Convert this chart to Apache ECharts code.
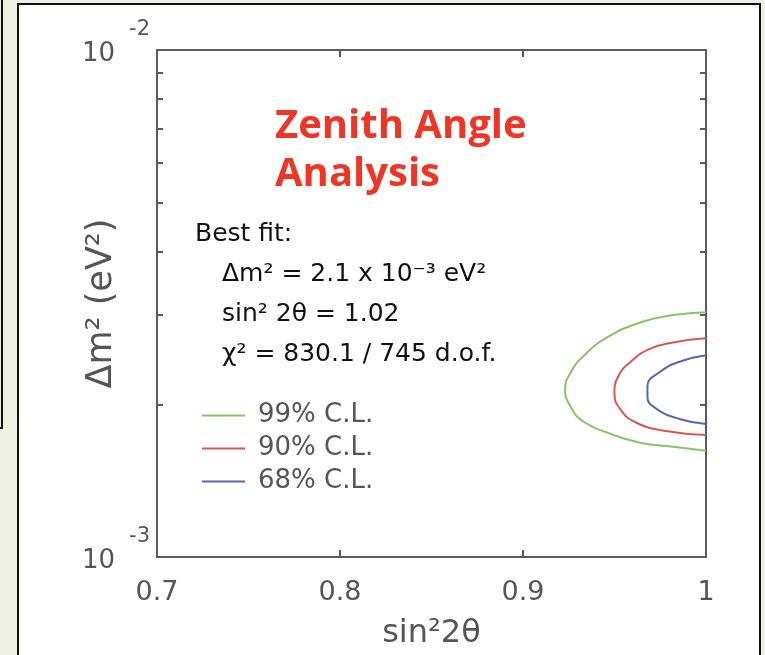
<!DOCTYPE html>
<html>
<head>
<meta charset="utf-8">
<script src="https://cdn.jsdelivr.net/npm/echarts@6/dist/echarts.min.js"></script>
<style>
  html, body { margin: 0; padding: 0; background: #eef0e4; }
  #main { width: 765px; height: 655px; }
</style>
</head>
<body>
<div id="main"></div>
<script>
// x: sin^2 2theta, y: delta m^2 (eV^2)
var xRange = [0.7, 1];
var yRange = [0.001, 0.01];
var yMinorTicks = [0.002, 0.003, 0.004, 0.005, 0.006, 0.007, 0.008, 0.009];

var legendNames = ['99% C.L.', '90% C.L.', '68% C.L.'];

// contours
var cl99X = [1.0, 0.982, 0.964, 0.946, 0.933, 0.926, 0.923, 0.926, 0.933, 0.946, 0.964, 0.982, 1.0];
var cl99Y = [0.00304, 0.00300, 0.00290, 0.00271, 0.00249, 0.00231, 0.00214, 0.00198, 0.00185, 0.00176, 0.00168, 0.00165, 0.00162];
var cl90X = [1.0, 0.982, 0.969, 0.959, 0.952, 0.950, 0.953, 0.962, 0.979, 1.0];
var cl90Y = [0.00270, 0.00265, 0.00257, 0.00243, 0.00227, 0.00211, 0.00196, 0.00184, 0.00177, 0.00174];
var cl68X = [1.0, 0.986, 0.975, 0.968, 0.968, 0.973, 0.986, 1.0];
var cl68Y = [0.00250, 0.00243, 0.00232, 0.00217, 0.00207, 0.00196, 0.00187, 0.00183];

var lineColors = ['#86c46e', '#d65a52', '#5766b4'];

function zip(xs, ys) {
    var out = [];
    for (var i = 0; i < xs.length; i++) out.push([xs[i], ys[i]]);
    return out;
}

var chart = echarts.init(document.getElementById('main'));

var axisGray = '#5a5a5a';
var font = 'DejaVu Sans';

var option = {
    backgroundColor: '#eef0e4',
    animation: false,
    graphic: [
        // slide panels
        { type: 'rect', z: -10, shape: { x: -10, y: -10, width: 12, height: 438 },
          style: { fill: '#eef0e4', stroke: '#111', lineWidth: 2 } },
        { type: 'rect', z: -10, shape: { x: 18, y: 4, width: 742, height: 680 },
          style: { fill: '#ffffff', stroke: '#111', lineWidth: 2 } }
    ],
    title: [{
        text: 'Zenith Angle\nAnalysis',
        left: 275, top: 103, padding: 0,
        textStyle: { color: '#ee3526', fontFamily: 'Open Sans', fontWeight: 'bold', fontSize: 40, lineHeight: 48 }
    }, {
        text: '{a|Best fit:}\n{b|Δm² = 2.1 x 10⁻³ eV²}\n{b|sin² 2θ = 1.02}\n{b|χ² = 830.1 / 745 d.o.f.}',
        left: 195, top: 214, padding: 0,
        textStyle: {
            fontWeight: 'normal',
            rich: {
                a: { color: '#111', fontFamily: font, fontWeight: 'normal', fontSize: 25, lineHeight: 40 },
                b: { color: '#111', fontFamily: font, fontWeight: 'normal', fontSize: 25, lineHeight: 40, padding: [0, 0, 0, 27] }
            }
        }
    }],
    legend: {
        orient: 'vertical',
        left: 197, top: 397,
        data: legendNames,
        icon: 'rect',
        itemWidth: 43, itemHeight: 2, itemGap: 6,
        textStyle: { color: '#555', fontFamily: font, fontSize: 26, lineHeight: 27, padding: [0, 0, 0, 8] }
    },
    grid: { left: 157, right: 59, top: 50, bottom: 97, containLabel: false },
    xAxis: [{
        type: 'value', min: xRange[0], max: xRange[1], interval: 0.1,
        position: 'bottom',
        name: 'sin²2θ', nameLocation: 'middle', nameGap: 61,
        nameTextStyle: { color: '#555', fontFamily: font, fontSize: 32 },
        axisLine: { lineStyle: { color: axisGray, width: 2 } },
        axisTick: { inside: true, length: 7, lineStyle: { color: axisGray, width: 2 } },
        axisLabel: { color: '#555', fontFamily: font, fontSize: 27, margin: 22, showMinLabel: true, showMaxLabel: true },
        splitLine: { show: false }
    }, {
        type: 'value', min: xRange[0], max: xRange[1], interval: 0.1,
        position: 'top',
        axisLine: { lineStyle: { color: axisGray, width: 2 } },
        axisTick: { inside: true, length: 7, lineStyle: { color: axisGray, width: 2 } },
        axisLabel: { show: false },
        splitLine: { show: false }
    }],
    yAxis: [{
        type: 'log', logBase: 10, min: yRange[0], max: yRange[1],
        position: 'left',
        name: 'Δm² (eV²)', nameLocation: 'middle', nameRotate: 90, nameGap: 38,
        nameMoveOverlap: false,
        nameTextStyle: { color: '#555', fontFamily: font, fontSize: 35 },
        axisLine: { lineStyle: { color: axisGray, width: 2 } },
        axisTick: { inside: true, length: 6, customValues: yMinorTicks, lineStyle: { color: axisGray, width: 2 } },
        axisLabel: {
            margin: 7, showMinLabel: true, showMaxLabel: true,
            formatter: function(v) {
                return '{s|' + Math.round(Math.log10(v)) + '}\n{b|10}\n{e| }';
            },
            rich: {
                s: { color: '#555', fontFamily: font, fontSize: 21, lineHeight: 24, align: 'right' },
                b: { color: '#555', fontFamily: font, fontSize: 26, lineHeight: 24, align: 'right', padding: [0, 35, 0, 0] },
                e: { fontSize: 10, lineHeight: 16, align: 'right' }
            }
        },
        splitLine: { show: false }
    }, {
        type: 'log', logBase: 10, min: yRange[0], max: yRange[1],
        position: 'right',
        axisLine: { lineStyle: { color: axisGray, width: 2 } },
        axisTick: { inside: true, length: 6, customValues: yMinorTicks, lineStyle: { color: axisGray, width: 2 } },
        axisLabel: { show: false },
        splitLine: { show: false }
    }],
    series: [
        { name: legendNames[0], type: 'line', data: zip(cl99X, cl99Y), smooth: true, symbol: 'none',
          lineStyle: { color: lineColors[0], width: 2 }, itemStyle: { color: lineColors[0] } },
        { name: legendNames[1], type: 'line', data: zip(cl90X, cl90Y), smooth: true, symbol: 'none',
          lineStyle: { color: lineColors[1], width: 2 }, itemStyle: { color: lineColors[1] } },
        { name: legendNames[2], type: 'line', data: zip(cl68X, cl68Y), smooth: true, symbol: 'none',
          lineStyle: { color: lineColors[2], width: 2 }, itemStyle: { color: lineColors[2] } }
    ]
};

chart.setOption(option);
</script>
</body>
</html>
